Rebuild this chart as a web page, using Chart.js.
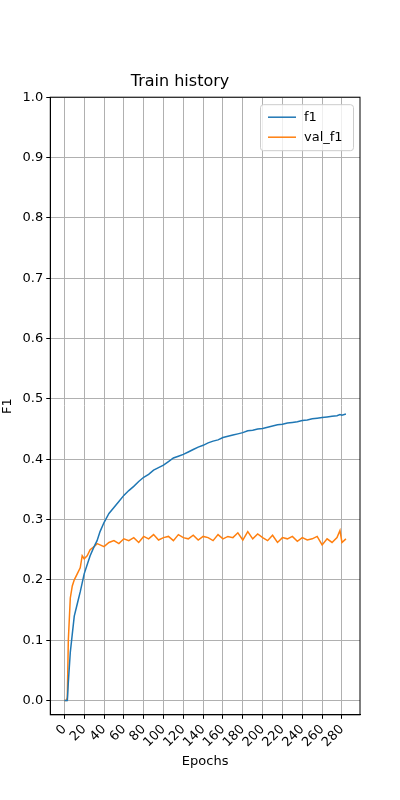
<!DOCTYPE html>
<html>
<head>
<meta charset="utf-8">
<script src="https://cdn.jsdelivr.net/npm/chart.js@4/dist/chart.umd.min.js"></script>
<style>
  body { margin: 0; background: #fff; }
  #wrap { width: 400px; height: 800px; }
</style>
</head>
<body>
<div id="wrap"><canvas id="c" width="400" height="800"></canvas></div>
<script>
// Data (every ~5 epochs)
const epochs = [0, 2, 3, 4, 6, 8, 10, 13, 16, 18, 20, 23, 26, 30, 33, 36, 40, 45, 50, 55, 60, 65, 70, 75, 80, 85, 90, 95, 100, 105, 110, 115, 120, 125, 130, 135, 140, 145, 150, 155, 160, 165, 170, 175, 180, 185, 190, 195, 200, 205, 210, 215, 220, 225, 230, 235, 240, 245, 250, 255, 260, 265, 270, 275, 278, 280, 284];
const f1 = [0, 0, 0, 0.03, 0.08, 0.11, 0.14, 0.16, 0.18, 0.195, 0.21, 0.225, 0.24, 0.255, 0.265, 0.28, 0.295, 0.31, 0.32, 0.33, 0.34, 0.348, 0.355, 0.363, 0.37, 0.375, 0.382, 0.386, 0.39, 0.396, 0.402, 0.405, 0.408, 0.412, 0.416, 0.42, 0.423, 0.427, 0.43, 0.432, 0.436, 0.438, 0.44, 0.442, 0.444, 0.447, 0.448, 0.45, 0.451, 0.453, 0.455, 0.457, 0.458, 0.46, 0.461, 0.462, 0.464, 0.465, 0.467, 0.468, 0.469, 0.47, 0.471, 0.472, 0.474, 0.473, 0.475];
const valF1 = [0, 0, 0.005, 0.1, 0.17, 0.19, 0.2, 0.21, 0.22, 0.24, 0.235, 0.24, 0.25, 0.255, 0.26, 0.258, 0.255, 0.262, 0.265, 0.26, 0.268, 0.265, 0.27, 0.262, 0.272, 0.268, 0.275, 0.266, 0.27, 0.272, 0.265, 0.275, 0.27, 0.268, 0.274, 0.266, 0.272, 0.27, 0.265, 0.275, 0.268, 0.272, 0.27, 0.278, 0.266, 0.28, 0.268, 0.276, 0.27, 0.265, 0.274, 0.262, 0.27, 0.268, 0.272, 0.264, 0.27, 0.266, 0.268, 0.272, 0.258, 0.268, 0.262, 0.27, 0.282, 0.262, 0.268];
const xTicks = [0, 20, 40, 60, 80, 100, 120, 140, 160, 180, 200, 220, 240, 260, 280];
const yTicks = [0, 0.1, 0.2, 0.3, 0.4, 0.5, 0.6, 0.7, 0.8, 0.9, 1.0];

const font = { family: 'DejaVu Sans', size: 13 };

// Legend drawn inside the plot, matplotlib style
const innerLegend = {
    id: 'innerLegend',
    afterDraw(chart) {
        const ctx = chart.ctx;
        const a = chart.chartArea;
        const x = a.right - 100, y = a.top + 7, w = 93, h = 46;
        ctx.save();
        ctx.fillStyle = 'rgba(255,255,255,0.8)';
        ctx.strokeStyle = '#cccccc';
        ctx.lineWidth = 1;
        ctx.beginPath();
        ctx.roundRect(x + 0.5, y + 0.5, w, h, 3);
        ctx.fill();
        ctx.stroke();
        ctx.font = '13px DejaVu Sans';
        ctx.textBaseline = 'middle';
        chart.data.datasets.forEach((ds, i) => {
            const ly = y + 13 + i * 20;
            ctx.strokeStyle = ds.borderColor;
            ctx.lineWidth = 1.5;
            ctx.beginPath();
            ctx.moveTo(x + 8, ly);
            ctx.lineTo(x + 36, ly);
            ctx.stroke();
            ctx.fillStyle = '#000';
            ctx.fillText(ds.label, x + 44, ly);
        });
        ctx.restore();
    }
};

new Chart(document.getElementById('c'), {
    type: 'line',
    data: {
        datasets: [
            { label: 'f1', data: epochs.map((e, i) => ({ x: e, y: f1[i] })), borderColor: '#1f77b4', borderWidth: 1.5, pointRadius: 0, tension: 0 },
            { label: 'val_f1', data: epochs.map((e, i) => ({ x: e, y: valF1[i] })), borderColor: '#ff7f0e', borderWidth: 1.5, pointRadius: 0, tension: 0 }
        ]
    },
    options: {
        responsive: false,
        animation: false,
        layout: { padding: { left: 0, right: 40, top: 0, bottom: 0 } },
        plugins: {
            legend: { display: false },
            tooltip: { enabled: false },
            title: { display: true, text: 'Train history', color: '#000', font: { family: 'DejaVu Sans', size: 16, weight: 'normal' }, padding: { top: 72, bottom: 6 } }
        },
        scales: {
            x: {
                type: 'linear', min: -14.2, max: 298.2,
                afterBuildTicks: s => { s.ticks = xTicks.map(v => ({ value: v })); },
                ticks: { color: '#000', font: font, maxRotation: 45, minRotation: 45, autoSkip: false },
                grid: { color: '#b0b0b0', lineWidth: 1, tickLength: 4, tickColor: '#000' },
                border: { color: '#000' },
                title: { display: true, text: 'Epochs', color: '#000', font: font, padding: { top: 0, bottom: 31 } }
            },
            y: {
                min: -0.0237, max: 1.0,
                afterBuildTicks: s => { s.ticks = yTicks.map(v => ({ value: v })); },
                ticks: { color: '#000', font: font, callback: v => v.toFixed(1) },
                grid: { color: '#b0b0b0', lineWidth: 1, tickLength: 4, tickColor: '#000' },
                border: { color: '#000' },
                title: { display: true, text: 'F1', color: '#000', font: font, padding: { top: 0, bottom: 4 } }
            }
        }
    },
    plugins: [innerLegend, {
        id: 'frame',
        afterDraw(chart) {
            const a = chart.chartArea, ctx = chart.ctx;
            ctx.save();
            ctx.strokeStyle = '#000';
            ctx.lineWidth = 1;
            ctx.strokeRect(a.left, a.top, a.right - a.left, a.bottom - a.top);
            ctx.restore();
        }
    }]
});
</script>
</body>
</html>
